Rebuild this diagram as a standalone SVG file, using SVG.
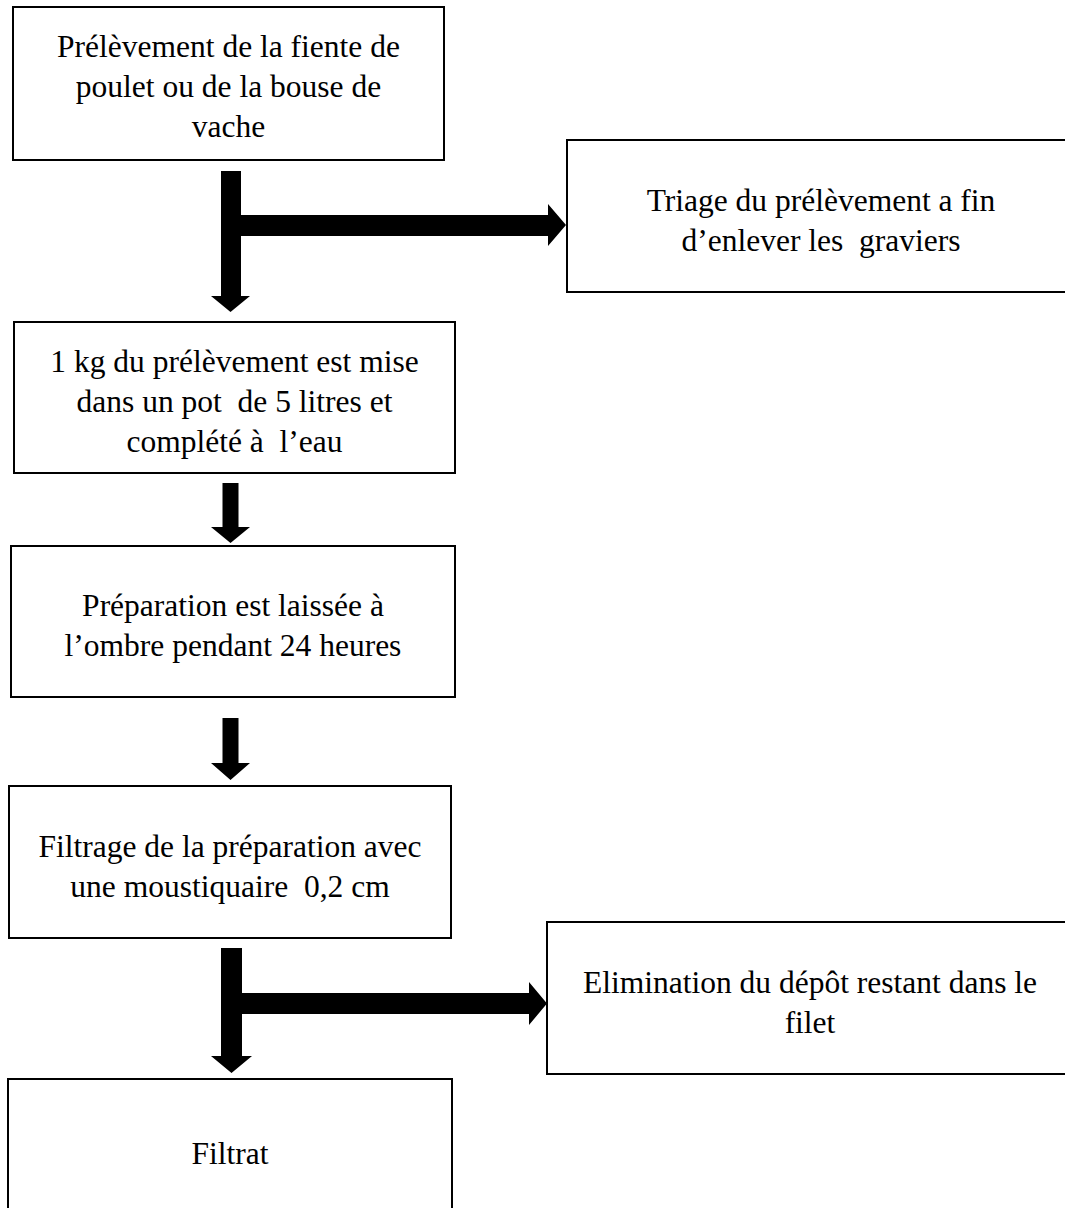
<svg xmlns="http://www.w3.org/2000/svg" width="1065" height="1208" viewBox="0 0 1065 1208">
<style>
.box{fill:#fff;stroke:#000;stroke-width:2}
.t{font-family:"Liberation Serif","Times New Roman",serif;font-size:31.5px;fill:#000;text-anchor:middle;white-space:pre}
.arr{fill:#000;stroke:none}
</style>
<rect width="1065" height="1208" fill="#fff"/>
<g id="n1">
<rect class="box" x="13" y="7" width="431" height="153"/>
<text class="t" x="228.5" y="57">Prélèvement de la fiente de</text>
<text class="t" x="228.5" y="97">poulet ou de la bouse de</text>
<text class="t" x="228.5" y="137">vache</text>
</g>
<g id="n2">
<rect class="box" x="567" y="140" width="508" height="152"/>
<text class="t" x="821" y="211">Triage du prélèvement a fin</text>
<text class="t" x="821" y="251">d’enlever les  graviers</text>
</g>
<g id="n3">
<rect class="box" x="14" y="322" width="441" height="151"/>
<text class="t" x="234.5" y="372">1 kg du prélèvement est mise</text>
<text class="t" x="234.5" y="412">dans un pot  de 5 litres et</text>
<text class="t" x="234.5" y="452">complété à  l’eau</text>
</g>
<g id="n4">
<rect class="box" x="11" y="546" width="444" height="151"/>
<text class="t" x="233" y="616">Préparation est laissée à</text>
<text class="t" x="233" y="656">l’ombre pendant 24 heures</text>
</g>
<g id="n5">
<rect class="box" x="9" y="786" width="442" height="152"/>
<text class="t" x="230" y="857">Filtrage de la préparation avec</text>
<text class="t" x="230" y="897">une moustiquaire  0,2 cm</text>
</g>
<g id="n6">
<rect class="box" x="547" y="922" width="527" height="152"/>
<text class="t" x="810" y="993">Elimination du dépôt restant dans le</text>
<text class="t" x="810" y="1033">filet</text>
</g>
<g id="n7">
<rect class="box" x="8" y="1079" width="444" height="140"/>
<text class="t" x="230" y="1164">Filtrat</text>
</g>
<g id="connectors">
<polygon class="arr" points="221,171 241,171 241,296 250,296 230.5,312 211,296 221,296"/>
<polygon class="arr" points="241,215 548,215 548,204 566,225 548,246 548,236 241,236"/>
<polygon class="arr" points="222.5,483 238.5,483 238.5,527 250,527 230.5,543 211,527 222.5,527"/>
<polygon class="arr" points="222.5,718 238.5,718 238.5,763 250,763 230.5,780 211,763 222.5,763"/>
<polygon class="arr" points="221,948 242,948 242,1056 252,1056 231.5,1073 211,1056 221,1056"/>
<polygon class="arr" points="242,993 529,993 529,982 547,1003.5 529,1025 529,1014 242,1014"/>
</g>
</svg>
